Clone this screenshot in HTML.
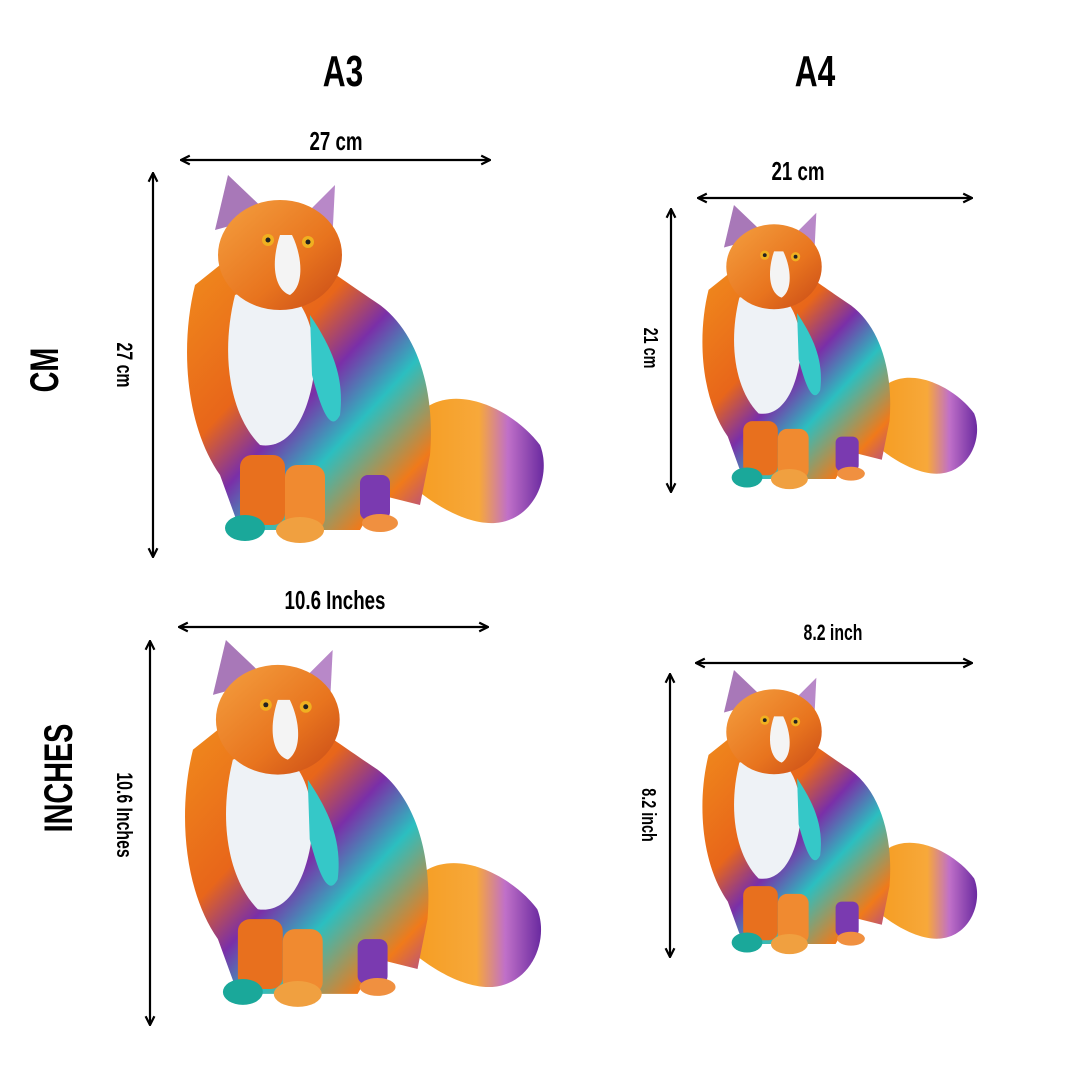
<!DOCTYPE html>
<html><head><meta charset="utf-8"><style>
html,body{margin:0;padding:0;background:#fff;}
svg{display:block}
text{font-family:"Liberation Sans",sans-serif;font-weight:bold;fill:#000}
</style></head><body>
<svg width="1080" height="1080" viewBox="0 0 1080 1080" xmlns="http://www.w3.org/2000/svg">
<defs>
<marker id="ah" viewBox="0 0 10 10" refX="9" refY="5" markerWidth="5" markerHeight="5" orient="auto-start-reverse">
<path d="M1,1 L9,5 L1,9" fill="none" stroke="#000" stroke-width="2"/>
</marker>
<linearGradient id="body" x1="0" y1="0" x2="1" y2="1">
<stop offset="0" stop-color="#f08a1c"/><stop offset="0.35" stop-color="#e8661a"/>
<stop offset="0.5" stop-color="#7a2fa8"/><stop offset="0.65" stop-color="#2bbfc0"/>
<stop offset="0.85" stop-color="#f07a1a"/><stop offset="1" stop-color="#9a3ab8"/>
</linearGradient>
<linearGradient id="tail" x1="0" y1="0" x2="1" y2="0">
<stop offset="0" stop-color="#f59a1c"/><stop offset="0.55" stop-color="#f7a83a"/>
<stop offset="0.75" stop-color="#c070c8"/><stop offset="1" stop-color="#6a2aa0"/>
</linearGradient>
<linearGradient id="head" x1="0" y1="0" x2="1" y2="1">
<stop offset="0" stop-color="#f4a040"/><stop offset="0.6" stop-color="#e8741e"/><stop offset="1" stop-color="#c84a18"/>
</linearGradient>
<g id="cat">
<path d="M230,250 C260,200 330,230 360,270 C372,300 355,345 315,348 C280,350 240,320 220,300 Z" fill="url(#tail)"/>
<path d="M15,110 C0,170 5,250 40,300 L60,355 L180,355 L200,320 L240,330 L250,280 C255,220 240,160 200,130 C170,110 150,95 140,90 L40,90 Z" fill="url(#body)"/>
<path d="M55,120 C40,180 50,240 80,270 C110,275 130,240 135,190 C135,140 115,110 85,110 Z" fill="#eef2f6"/>
<path d="M130,140 C150,170 165,200 160,240 C150,260 140,230 132,200 Z" fill="#35c8c8"/>
<path d="M48,0 L35,55 L90,40 Z" fill="#a878b8"/>
<path d="M155,10 L120,45 L152,70 Z" fill="#b888c8"/>
<ellipse cx="100" cy="80" rx="62" ry="55" fill="url(#head)"/>
<path d="M100,60 C90,90 95,115 110,120 C125,110 122,80 112,60 Z" fill="#f4f4f4"/>
<circle cx="88" cy="65" r="6" fill="#f0b020"/><circle cx="128" cy="67" r="6" fill="#f0b020"/>
<circle cx="88" cy="65" r="2.5" fill="#222"/><circle cx="128" cy="67" r="2.5" fill="#222"/>
<rect x="60" y="280" width="45" height="70" rx="12" fill="#e8701e"/>
<rect x="105" y="290" width="40" height="65" rx="12" fill="#f08a30"/>
<rect x="180" y="300" width="30" height="45" rx="8" fill="#7a3ab0"/>
<ellipse cx="65" cy="353" rx="20" ry="13" fill="#1aa89a"/>
<ellipse cx="120" cy="355" rx="24" ry="13" fill="#f0a040"/>
<ellipse cx="200" cy="348" rx="18" ry="9" fill="#f09040"/>
</g>
</defs>

<text x="343" y="86" font-size="44" text-anchor="middle" transform="translate(343 0) scale(0.72 1) translate(-343 0)">A3</text>
<text x="815" y="86" font-size="44" text-anchor="middle" transform="translate(815 0) scale(0.72 1) translate(-815 0)">A4</text>
<text font-size="40" text-anchor="middle" transform="translate(58 370) rotate(-90) scale(0.72 1)">CM</text>
<text font-size="40" text-anchor="middle" transform="translate(72 778) rotate(-90) scale(0.72 1)">INCHES</text>

<use href="#cat" transform="translate(180 175) scale(1 1)"/>
<use href="#cat" transform="translate(697 205) scale(0.77 0.772)"/>
<use href="#cat" transform="translate(178 640) scale(0.998 0.997)"/>
<use href="#cat" transform="translate(697 670) scale(0.77 0.772)"/>

<g stroke="#000" stroke-width="2.2" marker-start="url(#ah)" marker-end="url(#ah)">
<line x1="181" y1="160" x2="490" y2="160"/>
<line x1="153" y1="173" x2="153" y2="557"/>
<line x1="698" y1="198" x2="972" y2="198"/>
<line x1="671" y1="209" x2="671" y2="492"/>
<line x1="179" y1="627" x2="488" y2="627"/>
<line x1="150" y1="641" x2="150" y2="1025"/>
<line x1="696" y1="663" x2="972" y2="663"/>
<line x1="670" y1="674" x2="670" y2="957"/>
</g>

<g font-size="26">
<text text-anchor="middle" transform="translate(336 150) scale(0.72 1)">27 cm</text>
<text text-anchor="middle" transform="translate(798 180) scale(0.72 1)">21 cm</text>
<text text-anchor="middle" transform="translate(335 609) scale(0.72 1)">10.6  Inches</text>
<text text-anchor="middle" font-size="22" transform="translate(833 640) scale(0.72 1)">8.2 inch</text>
<text text-anchor="middle" font-size="22" transform="translate(117 365) rotate(90) scale(0.72 1)">27 cm</text>
<text text-anchor="middle" font-size="20" transform="translate(644 348) rotate(90) scale(0.72 1)">21 cm</text>
<text text-anchor="middle" font-size="22" transform="translate(117 815) rotate(90) scale(0.72 1)">10.6 Inches</text>
<text text-anchor="middle" font-size="20" transform="translate(642 815) rotate(90) scale(0.72 1)">8.2 inch</text>
</g>
</svg>
</body></html>
